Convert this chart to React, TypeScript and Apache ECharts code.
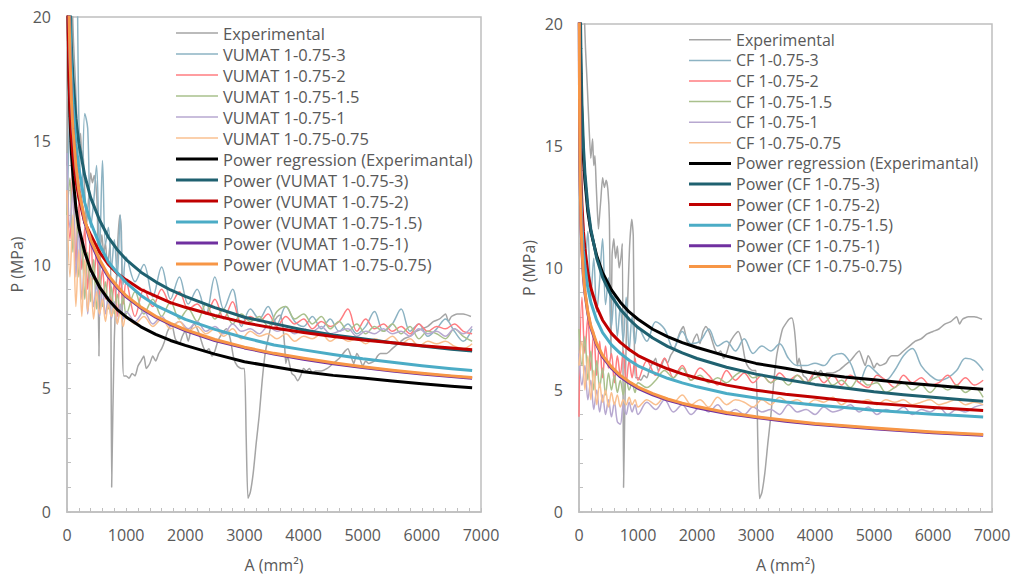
import React, { useEffect, useRef } from "react";
import * as echarts from "echarts";

// shared x positions (mm²) of the simulated curves
const XS = [0,50,100,150,200,250,300,350,400,450,500,550,600,650,700,750,800,850,900,950,1000,
  1150,1300,1450,1600,1750,1900,2050,2200,2350,2500,2650,2800,2950,3100,3250,3400,3550,3700,3850,
  4000,4150,4300,4450,4600,4750,4900,5050,5200,5350,5500,5650,5800,5950,6100,6250,6400,6550,6700,6850];

// experimental curve
const EXP_A = [0,40,70,90,110,140,170,200,230,250,270,290,310,330,350,370,400,430,460,490,515,540,560,590,620,650,680,710,735,755,
  775,800,830,860,895,920,940,960,1000,1050,1100,1150,1200,1250,1300,1340,1400,1450,1500,1550,1600,1650,1700,1770,1830,1900,1950,2000,2050,2100,
  2150,2220,2300,2350,2400,2450,2500,2550,2620,2700,2760,2820,2880,2950,3000,3030,3060,3100,3150,3200,3250,3300,3350,3400,3450,3500,3560,3610,3650,3680,
  3700,3730,3760,3800,3850,3900,3950,4000,4050,4100,4150,4200,4300,4400,4500,4600,4700,4750,4800,4850,4900,4950,5000,5050,5100,5200,5250,5300,5400,5500,
  5600,5700,5800,5900,6000,6100,6200,6300,6400,6450,6500,6600,6700,6830];
const EXP_P = [14.0,21,24,20.5,19,17.5,15.8,14.5,15.3,14.2,14.6,13.5,12.4,11.6,12.2,12.8,13.7,13.3,13.6,13.2,12.0,6.3,10.5,11.2,10.4,10.9,10.0,10.4,11.0,1.0,
  4.0,7.0,9.0,11.0,12.0,11.3,6.4,5.5,5.5,5.4,5.6,5.5,5.9,6.1,6.3,5.8,6.0,6.3,6.1,6.4,6.6,6.9,7.3,7.6,7.0,6.8,7.1,7.3,6.9,7.4,
  7.6,7.3,6.7,6.5,6.6,6.3,6.5,6.9,7.2,7.4,7.0,6.2,5.9,5.8,5.8,3.0,0.55,0.8,1.6,2.8,3.9,5.3,6.4,7.0,7.5,7.7,7.9,7.95,7.5,6.7,
  6.0,6.3,6.0,5.6,5.5,5.3,5.5,5.8,5.7,5.8,5.6,5.7,5.7,5.8,6.0,6.2,6.5,6.6,6.3,6.0,6.4,6.2,5.9,6.1,6.0,6.1,6.3,6.4,6.4,6.6,
  6.8,7.0,7.1,7.3,7.4,7.5,7.7,7.8,8.0,7.7,7.9,8.0,8.0,7.9];

// left chart: VUMAT
const VUMAT_3 = [12,17,22,24,16,12.5,16.1,15.5,11.5,12.5,14.0,10.5,14.2,10.8,11.5,9.8,11.0,9.5,12.0,9.2,10.3,
  9.3,10.0,8.7,9.9,8.6,9.5,8.4,9.0,8.0,9.5,8.2,9.0,7.5,8.2,7.8,8.3,7.6,8.3,7.7,7.5,7.9,7.4,7.8,7.3,7.6,7.2,7.5,8.1,7.3,7.6,8.2,7.3,7.6,7.1,7.4,7.8,7.3,6.9,7.4];
const VUMAT_2 = [13,11,14,10,12.5,9.8,11.5,9.0,11.2,9.4,10.5,8.8,9.8,8.6,9.6,8.4,9.2,7.9,9.5,8.4,9.3,
  7.9,9.0,8.3,9.0,8.4,8.9,8.2,8.4,8.0,8.6,7.8,8.5,7.6,7.9,7.7,8.0,7.5,7.9,7.6,7.8,7.4,7.7,7.5,7.7,8.2,7.3,7.8,7.4,7.6,7.3,7.5,7.2,7.6,7.3,7.5,7.4,7.6,7.3,7.2];
const VUMAT_15 = [12,13.5,10.5,12.8,9.5,11.0,8.6,10.5,8.5,10.2,8.2,9.6,8.3,9.3,8.2,9.1,8.0,8.8,8.1,8.7,8.0,
  8.9,8.0,8.6,7.9,8.5,7.8,8.2,7.7,8.4,7.8,8.2,7.6,8.0,7.7,7.9,7.5,8.1,8.3,7.8,8.0,7.6,7.9,7.4,7.7,7.3,7.6,7.2,7.5,7.3,7.6,7.2,7.5,7.0,7.3,7.2,7.0,7.4,7.1,6.9];
const VUMAT_1 = [14.5,11.5,13,9.5,11.5,8.6,10.0,8.0,9.6,8.3,9.2,7.9,9.0,8.0,8.7,7.8,8.5,7.6,8.4,7.8,8.1,
  7.7,8.1,7.6,7.9,7.5,7.7,7.4,7.7,7.3,7.5,7.2,7.6,7.3,7.4,7.2,7.5,7.3,7.4,7.2,7.4,7.3,7.5,7.2,7.3,7.4,7.1,7.3,7.2,7.4,7.2,7.3,7.1,7.4,7.2,7.3,7.1,7.4,7.2,7.5];
const VUMAT_075 = [13,9.5,12,8.3,10.6,7.9,10.2,8.1,9.5,7.8,8.9,8.0,8.6,7.7,8.4,7.9,8.3,7.6,8.1,7.5,7.9,
  7.6,7.9,7.5,7.8,7.4,7.7,7.3,7.5,7.2,7.4,7.1,7.4,7.0,7.3,7.1,7.2,7.0,7.2,6.9,7.1,7.0,7.2,6.9,7.1,6.9,7.0,6.8,7.0,6.9,7.1,6.8,7.0,6.7,6.9,6.8,6.9,6.7,6.6,6.8];

// right chart: CF
const CF_3 = [14,12,10,11.5,8.8,10.4,8.2,9.5,11.2,8.5,9.6,7.6,9.0,7.2,8.4,7.0,8.8,6.6,8.0,6.9,7.6,
  7.0,7.8,7.5,6.7,7.4,6.9,7.0,7.5,6.8,7.0,6.6,7.1,6.5,6.8,6.6,6.9,6.3,6.0,6.0,6.1,6.0,6.4,6.5,6.1,5.3,6.0,5.7,5.4,5.8,6.4,6.7,6.0,5.6,5.4,5.5,5.8,6.3,6.2,5.8];
const CF_2 = [3.9,8.8,6.5,8.0,5.8,7.4,5.6,7.0,5.5,6.8,5.9,6.5,5.3,6.4,5.6,6.6,5.3,6.2,5.5,6.3,5.4,
  6.2,5.6,6.3,5.5,6.0,5.4,5.9,5.6,5.2,5.8,5.4,5.7,5.3,5.6,5.3,5.7,5.4,5.6,5.3,5.7,5.3,5.6,5.2,5.6,5.3,5.1,5.6,5.4,5.1,5.6,5.3,5.5,5.2,5.3,5.6,5.2,5.5,5.2,5.4];
const CF_15 = [7.5,6.0,7.2,5.4,6.6,5.0,6.2,5.1,5.9,4.8,5.7,5.0,5.6,4.9,5.4,4.8,5.5,5.0,5.3,4.9,5.3,
  5.1,5.4,5.8,5.5,5.9,5.4,5.6,5.3,5.5,5.3,5.6,5.8,5.5,5.6,5.3,5.5,5.2,5.6,5.3,5.5,5.6,5.2,5.4,5.1,5.5,5.2,5.3,4.9,5.1,5.3,5.0,5.2,4.9,5.2,5.0,5.2,4.9,5.1,4.7];
const CF_1 = [6.5,5.2,6.0,4.6,5.4,4.2,5.0,4.1,4.8,4.0,4.6,3.9,4.5,3.7,3.6,4.4,4.0,4.5,4.1,4.4,4.0,
  4.5,4.2,4.6,4.1,4.4,4.0,4.3,4.1,4.4,4.0,4.2,4.0,4.3,4.1,4.2,4.0,4.4,4.1,4.2,4.0,4.3,4.1,4.2,4.4,4.1,4.3,4.0,4.2,4.1,4.3,4.0,4.2,4.1,4.3,4.0,4.2,4.1,4.3,4.4];
const CF_075 = [6.0,7.0,5.0,6.4,4.6,5.8,4.4,5.3,4.5,5.0,4.3,4.9,4.4,4.8,4.3,4.6,4.4,4.7,4.4,4.6,4.3,
  4.6,4.4,4.7,4.5,4.8,4.4,4.6,4.3,4.7,4.4,4.6,4.5,4.3,4.6,4.4,4.7,4.5,4.6,4.4,4.6,4.5,4.7,4.4,4.6,4.5,4.6,4.4,4.6,4.5,4.6,4.4,4.5,4.6,4.4,4.5,4.6,4.4,4.5,4.4];

// power trendlines, read at these A values
const PA = [3,10,20,35,50,75,100,150,200,300,400,550,700,850,1000,1250,1500,1750,2000,2500,3000,3500,4000,4500,5000,5500,6000,6500,6850];
const L_POW_EXP = [30.9,23.3,19.8,17.4,16.0,14.5,13.6,12.3,11.5,10.5,9.79,9.09,8.58,8.18,7.88,7.48,7.18,6.93,6.73,6.38,6.07,5.87,5.67,5.52,5.41,5.29,5.18,5.08,5.02];
const L_POW_3 = [40.0,30.2,25.6,22.5,20.7,18.8,17.6,15.9,14.9,13.6,12.7,11.8,11.1,10.6,10.2,9.69,9.30,8.97,8.71,8.26,7.87,7.61,7.35,7.15,7.00,6.84,6.71,6.58,6.50];
const L_POW_2 = [27.6,22.1,19.4,17.5,16.4,15.2,14.4,13.4,12.7,11.7,11.2,10.5,10.0,9.64,9.38,8.99,8.72,8.46,8.27,7.94,7.65,7.43,7.25,7.09,6.95,6.84,6.72,6.63,6.56];
const L_POW_15 = [39.9,29.5,24.8,21.5,19.7,17.7,16.5,14.9,13.9,12.5,11.7,10.8,10.1,9.67,9.27,8.75,8.35,8.07,7.78,7.38,7.04,6.75,6.55,6.36,6.19,6.05,5.91,5.79,5.72];
const L_POW_1 = [36.8,27.3,23.0,20.0,18.3,16.5,15.4,13.9,13.0,11.7,10.9,10.1,9.50,9.07,8.69,8.24,7.87,7.58,7.33,6.93,6.63,6.38,6.17,5.99,5.84,5.70,5.58,5.47,5.40];
const L_POW_075 = [37.0,27.4,23.1,20.1,18.4,16.6,15.5,14.0,13.0,11.8,11.0,10.2,9.56,9.12,8.74,8.28,7.91,7.62,7.37,6.97,6.66,6.41,6.21,6.03,5.87,5.73,5.61,5.50,5.43];

const R_POW_EXP = [30.9,23.3,19.8,17.4,16.0,14.5,13.6,12.3,11.5,10.5,9.81,9.10,8.60,8.20,7.90,7.49,7.19,6.94,6.74,6.39,6.09,5.89,5.68,5.53,5.42,5.30,5.19,5.09,5.03];
const R_POW_3 = [35.2,25.6,21.3,18.4,16.7,15.0,13.9,12.5,11.6,10.4,9.62,8.85,8.31,7.90,7.56,7.13,6.79,6.52,6.29,5.93,5.65,5.43,5.23,5.08,4.93,4.81,4.70,4.60,4.54];
const R_POW_2 = [23.7,18.1,15.5,13.6,12.6,11.5,10.8,9.82,9.19,8.40,7.86,7.32,6.95,6.66,6.41,6.12,5.87,5.66,5.49,5.20,4.99,4.83,4.70,4.57,4.46,4.37,4.28,4.21,4.16];
const R_POW_15 = [22.2,16.9,14.5,12.8,11.8,10.7,10.1,9.18,8.60,7.86,7.35,6.85,6.50,6.22,5.99,5.72,5.48,5.29,5.13,4.86,4.67,4.51,4.39,4.28,4.17,4.09,4.01,3.94,3.89];
const R_POW_1 = [21.5,15.9,13.4,11.7,10.7,9.64,8.98,8.13,7.56,6.84,6.36,5.89,5.54,5.29,5.07,4.80,4.59,4.42,4.27,4.04,3.87,3.72,3.60,3.50,3.41,3.33,3.25,3.19,3.15];
const R_POW_075 = [21.7,16.1,13.5,11.8,10.8,9.73,9.06,8.20,7.63,6.90,6.42,5.95,5.60,5.34,5.12,4.85,4.63,4.46,4.32,4.08,3.90,3.76,3.63,3.53,3.44,3.36,3.28,3.22,3.18];

const X_TICKS = [0, 7000, 1000];
const Y_TICKS = [0, 20, 5];

const FONT = "'Open Sans', sans-serif";
const TXT = "#595959";
const AX = "#bfbfbf";

const C = {
  exp: "#a5a5a5",
  t3: "#8db3c3",
  t2: "#ff7c80",
  t15: "#a9c08c",
  t1: "#b7a8d0",
  t075: "#fac090",
  pExp: "#000000",
  p3: "#1f6170",
  p2: "#c00000",
  p15: "#4bacc6",
  p1: "#7030a0",
  p075: "#f79646",
};

const THIN_ICON = "path://M0,0H42V1.5H0Z";
const THICK_ICON = "path://M0,0H42V3H0Z";

function pairs(xs: number[], ys: number[]) {
  return xs.map((x, i) => [x, ys[i]]);
}

function thin(name: string, xs: number[], ys: number[], color: string, idx: number, smooth = 0.35) {
  return {
    type: "line", name, xAxisIndex: idx, yAxisIndex: idx, data: pairs(xs, ys),
    symbol: "none", showSymbol: false, smooth, clip: true,
    lineStyle: { width: 1.5, color }, itemStyle: { color }, z: 2,
  };
}
function power(name: string, ys: number[], color: string, idx: number) {
  return {
    type: "line", name, xAxisIndex: idx, yAxisIndex: idx, data: pairs(PA, ys),
    symbol: "none", showSymbol: false, smooth: false, clip: true,
    lineStyle: { width: 3, color, join: "round" }, itemStyle: { color }, z: 3,
  };
}

function xAxis(gridIndex: number) {
  return {
    type: "value", gridIndex, min: X_TICKS[0], max: X_TICKS[1], interval: X_TICKS[2],
    name: "A (mm²)", nameLocation: "middle", nameGap: 45,
    nameTextStyle: { color: TXT, fontSize: 16, fontFamily: FONT },
    axisLine: { show: true, lineStyle: { color: AX, width: 1.5 } },
    axisTick: { show: true, inside: true, length: 4, lineStyle: { color: AX } },
    minorTick: { show: true, splitNumber: 5, length: 4, lineStyle: { color: AX } },
    splitLine: { show: false },
    axisLabel: { color: TXT, fontSize: 16, fontFamily: FONT, margin: 15, formatter: (v: number) => String(v) },
  };
}
function yAxis(gridIndex: number) {
  return {
    type: "value", gridIndex, min: Y_TICKS[0], max: Y_TICKS[1], interval: Y_TICKS[2],
    name: "P (MPa)", nameLocation: "middle", nameGap: 42, nameRotate: 90,
    nameTextStyle: { color: TXT, fontSize: 16, fontFamily: FONT },
    axisLine: { show: true, lineStyle: { color: AX, width: 1.5 } },
    axisTick: { show: true, inside: true, length: 4, lineStyle: { color: AX } },
    minorTick: { show: true, splitNumber: 5, length: 4, lineStyle: { color: AX } },
    splitLine: { show: false },
    axisLabel: { color: TXT, fontSize: 16, fontFamily: FONT, margin: 16 },
  };
}

const LEFT_NAMES = ["Experimental", "VUMAT 1-0.75-3", "VUMAT 1-0.75-2", "VUMAT 1-0.75-1.5", "VUMAT 1-0.75-1", "VUMAT 1-0.75-0.75",
  "Power regression (Experimantal)", "Power (VUMAT 1-0.75-3)", "Power (VUMAT 1-0.75-2)", "Power (VUMAT 1-0.75-1.5)", "Power (VUMAT 1-0.75-1)", "Power (VUMAT 1-0.75-0.75)"];
const RIGHT_NAMES = ["Experimental", "CF 1-0.75-3", "CF 1-0.75-2", "CF 1-0.75-1.5", "CF 1-0.75-1", "CF 1-0.75-0.75",
  "Power regression (Experimantal)", "Power (CF 1-0.75-3)", "Power (CF 1-0.75-2)", "Power (CF 1-0.75-1.5)", "Power (CF 1-0.75-1)", "Power (CF 1-0.75-0.75)"];

function legend(left: number, top: number, names: string[], lh: number, fs: number) {
  return {
    orient: "vertical", left, top, padding: 0, itemWidth: 42, itemHeight: 12, itemGap: 0,
    selectedMode: false, symbolKeepAspect: true,
    data: names.map((name, i) => ({ name, icon: i < 6 ? THIN_ICON : THICK_ICON })),
    textStyle: { color: TXT, fontSize: fs, fontFamily: FONT, lineHeight: lh },
  };
}

const option = {
  animation: false,
  backgroundColor: "#ffffff",
  grid: [
    { left: 67, top: 17, width: 414, height: 495, show: true, borderColor: AX, borderWidth: 1.5, containLabel: false },
    { left: 579, top: 24, width: 413, height: 489, show: true, borderColor: AX, borderWidth: 1.5, containLabel: false },
  ],
  xAxis: [xAxis(0), xAxis(1)],
  yAxis: [yAxis(0), yAxis(1)],
  legend: [legend(176, 22.5, LEFT_NAMES, 21, 16.5), legend(689, 29.5, RIGHT_NAMES, 20.6, 16)],
  series: [
    thin(LEFT_NAMES[0], EXP_A, EXP_P, C.exp, 0, 0.2),
    thin(LEFT_NAMES[1], XS, VUMAT_3, C.t3, 0),
    thin(LEFT_NAMES[2], XS, VUMAT_2, C.t2, 0),
    thin(LEFT_NAMES[3], XS, VUMAT_15, C.t15, 0),
    thin(LEFT_NAMES[4], XS, VUMAT_1, C.t1, 0),
    thin(LEFT_NAMES[5], XS, VUMAT_075, C.t075, 0),
    power(LEFT_NAMES[6], L_POW_EXP, C.pExp, 0),
    power(LEFT_NAMES[7], L_POW_3, C.p3, 0),
    power(LEFT_NAMES[8], L_POW_2, C.p2, 0),
    power(LEFT_NAMES[9], L_POW_15, C.p15, 0),
    power(LEFT_NAMES[10], L_POW_1, C.p1, 0),
    power(LEFT_NAMES[11], L_POW_075, C.p075, 0),

    thin(RIGHT_NAMES[0], EXP_A, EXP_P, C.exp, 1, 0.2),
    thin(RIGHT_NAMES[1], XS, CF_3, C.t3, 1),
    thin(RIGHT_NAMES[2], XS, CF_2, C.t2, 1),
    thin(RIGHT_NAMES[3], XS, CF_15, C.t15, 1),
    thin(RIGHT_NAMES[4], XS, CF_1, C.t1, 1),
    thin(RIGHT_NAMES[5], XS, CF_075, C.t075, 1),
    power(RIGHT_NAMES[6], R_POW_EXP, C.pExp, 1),
    power(RIGHT_NAMES[7], R_POW_3, C.p3, 1),
    power(RIGHT_NAMES[8], R_POW_2, C.p2, 1),
    power(RIGHT_NAMES[9], R_POW_15, C.p15, 1),
    power(RIGHT_NAMES[10], R_POW_1, C.p1, 1),
    power(RIGHT_NAMES[11], R_POW_075, C.p075, 1),
  ],
};

export default function App() {
  const ref = useRef<HTMLDivElement>(null);
  useEffect(() => {
    if (!ref.current) return;
    const chart = echarts.init(ref.current, null, { renderer: "svg" });
    chart.setOption(option as any);
    return () => chart.dispose();
  }, []);
  return (
    <div
      ref={ref}
      style={{ position: "absolute", left: 0, top: 0, width: 1015, height: 578, background: "#fff" }}
    />
  );
}
